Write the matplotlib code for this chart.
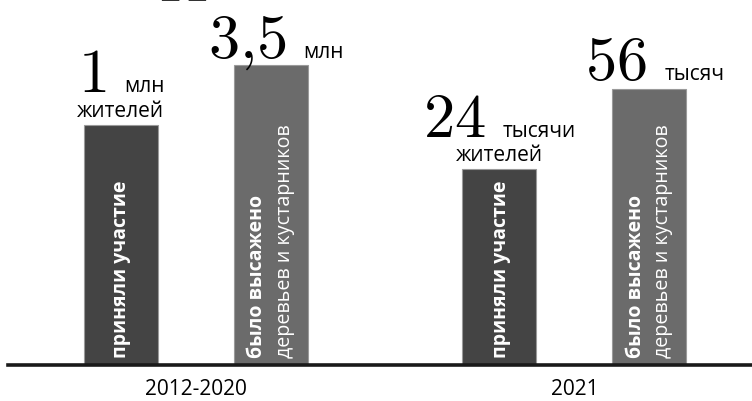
import matplotlib
matplotlib.use('Agg')
import matplotlib.pyplot as plt

plt.rcParams['mathtext.fontset'] = 'cm'

# data
groups = ['2012-2020', '2021']
bar_heights = [240, 300, 196, 276]          # drawn heights (px), bars are not to scale
numbers = ['1', '3{,}5', '24', '56']
units = ['млн', 'млн', 'тысячи', 'тысяч']
sub_labels = ['жителей', '', 'жителей', '']
bold_text = ['приняли участие', 'было высажено', 'приняли участие', 'было высажено']
light_text = ['', 'деревьев и кустарников', '', 'деревьев и кустарников']

dark = '#444444'
mid = '#6b6b6b'
colors = [dark, mid, dark, mid]

# layout, in pixels of the 752x402 picture
W, H = 752, 402
base_px = 36            # baseline height above picture bottom
group0_px = 196         # centre of first group
group_step = 378.5      # distance between group centres
bar_off = 75 / group_step
bar_w = 74 / group_step

fig = plt.figure(figsize=(W / 100, H / 100), dpi=100)
ax = fig.add_axes([0, base_px / H, 1, 1 - base_px / H])
ax.set_xlim(-group0_px / group_step, (W - group0_px) / group_step)
ax.set_ylim(0, H - base_px)
ax.axis('off')

xs = []
for g in range(len(groups)):
    xs += [g - bar_off, g + bar_off]

ax.bar(xs, bar_heights, width=bar_w, color=colors, edgecolor='#9a9a9a',
       linewidth=0.8, align='center', zorder=2)
ax.axhline(0, xmin=8 / W, xmax=1, color='#1a1a1a', lw=2.6, zorder=3, clip_on=False)

# cut-off heading above the chart (only its serifs show)
fig.text(183 / W, 1 - 1 / H, 'П', ha='center', va='baseline',
         family='Liberation Serif', fontsize=48, color='#333333')

# per-bar offsets of the headline (px): number right edge, unit left edge, baseline above bar
num_dx = [-15, 16, -14, -3]
unit_dx = [3, 32, 3, 15]
head_dy = [34, 8, 33, 10]
line_dx = [(0, 0), (-14, 14), (2, 0), (-13, 14)]

sans = 'Open Sans'
for i, x in enumerate(xs):
    h = bar_heights[i]
    ax.annotate(f'${numbers[i]}$', (x, h), xytext=(num_dx[i], head_dy[i]),
                textcoords='offset pixels', ha='right', va='baseline',
                fontsize=45, color='black')
    ax.annotate(units[i], (x, h), xytext=(unit_dx[i], head_dy[i]),
                textcoords='offset pixels', ha='left', va='baseline',
                fontsize=15, family=sans, color='black')
    if sub_labels[i]:
        ax.annotate(sub_labels[i], (x, h), xytext=(0, 9),
                    textcoords='offset pixels', ha='center', va='baseline',
                    fontsize=15, family=sans, color='black')
    ax.annotate(bold_text[i], (x, 0), xytext=(line_dx[i][0], 8),
                textcoords='offset pixels', ha='left', va='center',
                rotation=90, rotation_mode='anchor', fontsize=14,
                family=sans, fontweight='bold', color='white', zorder=4)
    if light_text[i]:
        ax.annotate(light_text[i], (x, 0), xytext=(line_dx[i][1], 8),
                    textcoords='offset pixels', ha='left', va='center',
                    rotation=90, rotation_mode='anchor', fontsize=14.2,
                    family=sans, color='white', zorder=4)

for g, name in enumerate(groups):
    ax.annotate(name, (g, 0), xytext=(0, -13), textcoords='offset pixels',
                ha='center', va='top', fontsize=15, family=sans, color='black')

fig.savefig('out.png', dpi=100)
